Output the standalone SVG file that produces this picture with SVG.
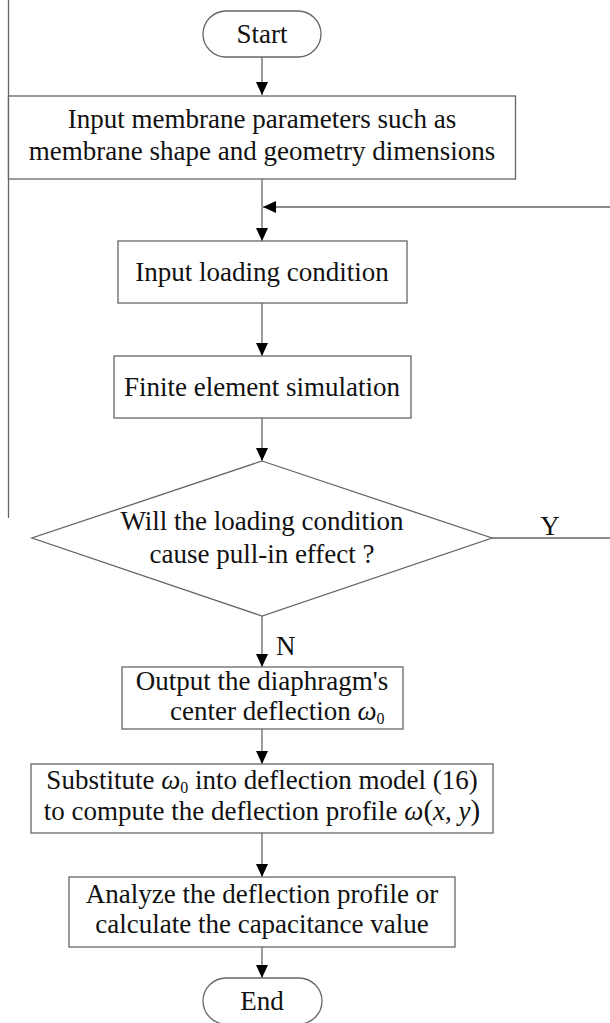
<svg xmlns="http://www.w3.org/2000/svg" width="610" height="1023" viewBox="0 0 610 1023">
<style>
.box{fill:#fff;stroke:#666;stroke-width:1.3}
.ln{fill:none;stroke:#666;stroke-width:1.3}
.t{font-family:"Liberation Serif","Times New Roman",serif;font-size:27px;fill:#111;text-anchor:middle}
.ts{font-family:"Liberation Serif","Times New Roman",serif;font-size:27px;fill:#111}
.i{font-style:italic}
.sub{font-size:16px}
</style>
<defs>
<marker id="ah" markerUnits="userSpaceOnUse" markerWidth="13" markerHeight="12" refX="13" refY="6" orient="auto">
<path d="M0,0 L13,6 L0,12 z" fill="#000"/>
</marker>
</defs>
<rect width="610" height="1023" fill="#fff"/>
<g id="connectors">
<line class="ln" x1="8.5" y1="0" x2="8.5" y2="518"/>
<line class="ln" x1="262" y1="57" x2="262" y2="95" marker-end="url(#ah)"/>
<line class="ln" x1="262" y1="179" x2="262" y2="241" marker-end="url(#ah)"/>
<line class="ln" x1="610" y1="207" x2="263" y2="207" marker-end="url(#ah)"/>
<line class="ln" x1="262" y1="303" x2="262" y2="356" marker-end="url(#ah)"/>
<line class="ln" x1="262" y1="418" x2="262" y2="461" marker-end="url(#ah)"/>
<line class="ln" x1="492" y1="538" x2="610" y2="538"/>
<text class="t" x="550" y="535">Y</text>
<line class="ln" x1="262" y1="616" x2="262" y2="667" marker-end="url(#ah)"/>
<text class="ts" x="276" y="655">N</text>
<line class="ln" x1="262" y1="729" x2="262" y2="764" marker-end="url(#ah)"/>
<line class="ln" x1="262" y1="833" x2="262" y2="877" marker-end="url(#ah)"/>
<line class="ln" x1="262" y1="947" x2="262" y2="978" marker-end="url(#ah)"/>
</g>
<g id="start">
<rect class="box" x="203" y="11" width="118" height="46" rx="23"/>
<text class="t" x="262" y="43">Start</text>
</g>
<g id="input-membrane">
<rect class="box" x="8.5" y="96" width="507" height="83"/>
<text class="t" x="262" y="128">Input membrane parameters such as</text>
<text class="t" x="262" y="160">membrane shape and geometry dimensions</text>
</g>
<g id="input-loading">
<rect class="box" x="118" y="241" width="289" height="62"/>
<text class="t" x="262" y="281">Input loading condition</text>
</g>
<g id="fem">
<rect class="box" x="114" y="356" width="297" height="62"/>
<text class="t" x="262" y="396">Finite element simulation</text>
</g>
<g id="decision">
<polygon class="box" points="262,461 492,538 262,616 32,538"/>
<text class="t" x="262" y="530">Will the loading condition</text>
<text class="t" x="262" y="563">cause pull-in effect ?</text>
</g>
<g id="output">
<rect class="box" x="122" y="667" width="281" height="62"/>
<text class="t" x="262" y="690">Output the diaphragm's</text>
<text class="ts" x="170" y="720">center deflection <tspan class="i">ω</tspan><tspan class="sub" dy="4">0</tspan></text>
</g>
<g id="substitute">
<rect class="box" x="31" y="764" width="462" height="69"/>
<text class="t" x="262" y="789">Substitute  <tspan class="i">ω</tspan><tspan class="sub" dy="4">0</tspan><tspan dy="-4"> into deflection model (16)</tspan></text>
<text class="t" x="262" y="820">to compute the deflection profile <tspan class="i">ω</tspan><tspan font-size="29">(</tspan><tspan class="i">x</tspan>, <tspan class="i">y</tspan><tspan font-size="29">)</tspan></text>
</g>
<g id="analyze">
<rect class="box" x="69" y="877" width="386" height="70"/>
<text class="t" x="262" y="903">Analyze the deflection profile or</text>
<text class="t" x="262" y="933">calculate the capacitance value</text>
</g>
<g id="end">
<rect class="box" x="203" y="978" width="119" height="46" rx="23"/>
<text class="t" x="262" y="1010">End</text>
</g>
</svg>
